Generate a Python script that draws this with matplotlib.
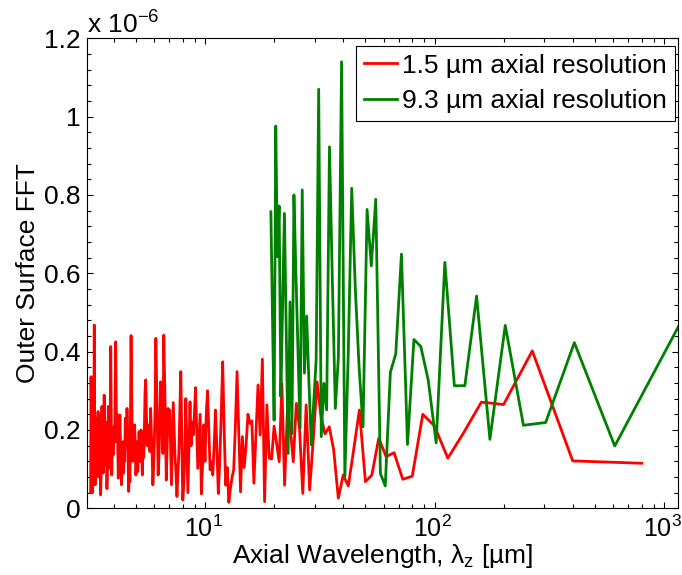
import numpy as np
import matplotlib
matplotlib.use("Agg")
import matplotlib.pyplot as plt
import matplotlib.transforms as mtransforms
from matplotlib.ticker import FuncFormatter, MultipleLocator, LogLocator, NullFormatter

plt.rcParams["font.family"] = ["Liberation Sans", "DejaVu Sans"]
plt.rcParams["mathtext.fontset"] = "custom"
plt.rcParams["mathtext.rm"] = "Liberation Sans"
plt.rcParams["mathtext.it"] = "Liberation Sans:italic"
plt.rcParams["mathtext.bf"] = "Liberation Sans:bold"

# FFT of the outer surface profile: wavelength = sample length / harmonic index
red_length = 800.0     # um, 1.5 um axial resolution scan
green_length = 1220.0  # um, 9.3 um axial resolution scan

# amplitudes in units of 1e-7, harmonic k = 1, 2, 3, ...
red_fft_e7 = [
    1.15, 1.21, 4.02, 2.65, 2.71, 1.91, 1.28, 2.10, 2.40, 0.82,
    0.74, 1.42, 1.32, 1.79, 0.85, 0.68, 2.51, 1.50, 0.57, 0.85,
    0.26, 1.49, 2.08, 1.90, 2.36, 3.23, 1.75, 0.47, 2.64, 0.38,
    2.04, 2.68, 1.19, 2.04, 2.51, 0.59, 3.19, 1.19, 1.66, 2.10,
    1.26, 1.28, 2.64, 0.17, 3.81, 1.87, 3.15, 1.90, 0.64, 2.23,
    2.17, 2.40, 1.60, 1.04, 1.83, 0.42, 1.90, 3.49, 2.10, 0.98,
    0.79, 0.50, 0.15, 1.04, 0.59, 2.00, 3.74, 2.40, 1.20, 0.38,
    1.50, 2.51, 1.60, 0.85, 1.19, 0.98, 2.00, 3.00, 2.40, 1.20,
    2.13, 1.10, 0.37, 2.40, 1.70, 1.02, 2.10, 3.08, 2.40, 1.87,
    2.20, 1.60, 2.72, 1.50, 0.40, 1.60, 2.80, 1.30, 0.60, 0.21,
    1.80, 3.49, 2.50, 1.40, 0.90, 0.30, 0.90, 1.28, 2.00, 2.70,
    1.60, 0.60, 1.60, 2.51, 1.90, 2.55, 1.50, 0.72, 2.20, 3.30,
    4.42, 1.40, 2.10, 2.98, 3.23, 2.00, 1.30, 0.85, 2.00, 3.10,
    4.34, 2.60, 1.70, 1.02, 0.60, 1.40, 1.90, 2.55, 1.45, 1.70,
    1.90, 2.13, 1.60, 2.40, 3.28, 2.98, 2.00, 1.30, 1.50, 0.85,
    1.60, 2.00, 1.20, 1.40, 1.96, 1.50, 0.94, 1.70, 1.20, 0.85,
    1.50, 2.13, 1.40, 1.90, 1.20, 1.70, 3.00, 4.41, 2.20, 0.68,
    1.20, 0.43, 1.30, 2.00, 2.55, 1.60, 1.90, 2.30, 1.20, 1.45,
    0.90, 1.70, 1.30, 0.90, 0.60, 1.50, 1.80, 2.38, 1.50, 1.10,
    0.77, 1.60, 2.40, 1.70, 2.80, 4.25, 2.90, 1.70, 2.10, 1.60,
    1.36, 2.00, 1.40, 0.85, 2.50, 4.13, 2.30, 1.02, 1.80, 1.30,
    2.60, 1.50, 1.00, 0.50, 1.30, 2.20, 1.96, 1.10, 2.00, 2.89,
    1.90, 0.90, 1.50, 1.87, 2.60, 1.20, 0.80, 0.34, 2.38, 1.40,
    2.10, 0.80, 1.70, 2.47, 1.30, 1.90, 2.30, 1.40, 0.77, 2.30,
    0.60, 2.00, 4.68, 2.20, 0.90, 1.60, 0.40, 1.30, 0.55, 2.40,
    3.36, 0.40,
]

green_fft_e7 = [
    4.90, 1.59, 4.23, 2.19, 2.12, 4.67, 1.76, 5.42, 3.13, 3.13,
    6.28, 1.67, 3.28, 4.13, 4.31, 1.63, 6.49, 3.94, 3.47, 0.57,
    0.89, 7.89, 6.19, 7.63, 2.08, 3.60, 5.60, 8.17, 3.90, 0.80,
    11.40, 3.87, 2.55, 5.80, 9.23, 2.51, 3.19, 1.83, 10.70, 3.79,
    2.70, 1.62, 3.20, 4.91, 3.45, 8.13, 2.04, 4.00, 6.00, 8.00,
    1.91, 5.27, 1.40, 4.50, 7.53, 5.20, 2.85, 7.72, 6.42, 9.76,
    2.25, 4.90, 7.57,
]

series_labels = ["1.5 \u00b5m axial resolution", "9.3 \u00b5m axial resolution"]
series_colors = ["#ff0000", "#008000"]

red_fft = np.array(red_fft_e7) * 1e-7
green_fft = np.array(green_fft_e7) * 1e-7
red_wl = red_length / np.arange(1, len(red_fft) + 1)
green_wl = green_length / np.arange(1, len(green_fft) + 1)

fig = plt.figure(figsize=(6.82, 5.75), dpi=100)
ax = fig.add_axes([0.1271, 0.1160, 0.8666, 0.8174])

ax.plot(red_wl, red_fft, color=series_colors[0], lw=2.0, label=series_labels[0])
ax.plot(green_wl, green_fft, color=series_colors[1], lw=2.0, label=series_labels[1])

ax.set_xscale("log")
ax.set_xlim(3.051, 1147)
ax.set_ylim(0, 1.2e-6)

ax.yaxis.set_major_locator(MultipleLocator(0.2e-6))
ax.yaxis.set_minor_locator(MultipleLocator(0.04e-6))
ax.yaxis.set_major_formatter(FuncFormatter(lambda v, _: f"{round(v * 1e6, 6):g}"))
ax.xaxis.set_major_locator(LogLocator(base=10))
ax.xaxis.set_minor_locator(LogLocator(base=10, subs=np.arange(2, 10)))
ax.xaxis.set_minor_formatter(NullFormatter())

ax.tick_params(which="both", direction="in", top=True, right=True,
               labelsize=19, width=0.8, color="black")
ax.tick_params(axis="x", labelsize=18, pad=5)
ax.tick_params(which="major", length=4.0)
ax.tick_params(which="minor", length=2.8)
ax.tick_params(axis="y", pad=4.5)
for sp in ax.spines.values():
    sp.set_linewidth(0.8)
    sp.set_color("black")

# nudge the decade labels a little to the left so the last one stays inside
shift = mtransforms.ScaledTranslation(-2 / 100, 0, fig.dpi_scale_trans)
for lbl in ax.get_xticklabels():
    lbl.set_transform(lbl.get_transform() + shift)

ax.set_xlabel("Axial Wavelength, $\\mathregular{\u03bb_z}$ [\u00b5m]", fontsize=19, labelpad=0)
ax.set_ylabel("Outer Surface FFT", fontsize=19, labelpad=3)

ax.annotate("x 10$^{\\mathregular{-6}}$", xy=(0, 1), xycoords="axes fraction",
            xytext=(0, 5), textcoords="offset pixels", ha="left", va="baseline",
            fontsize=19)

leg = ax.legend(loc="upper right", bbox_to_anchor=(1 - 2.7 / 591, 1 - 7.4 / 470),
                borderaxespad=0, fancybox=False, edgecolor="black", framealpha=1,
                fontsize=19, handlelength=1.25, handletextpad=0.2, borderpad=0.3,
                labelspacing=0.45)
leg.get_frame().set_linewidth(0.8)

fig.savefig("out.png", dpi=100, facecolor="white")
